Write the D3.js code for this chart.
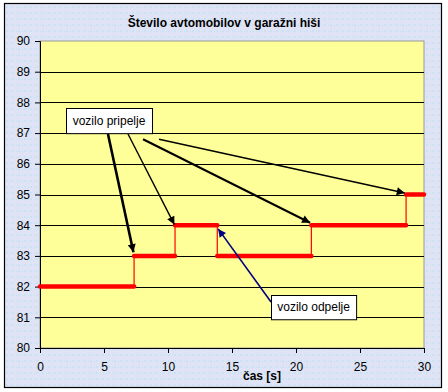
<!DOCTYPE html>
<html>
<head>
<meta charset="utf-8">
<script src="https://cdn.jsdelivr.net/npm/d3@7"></script>
<style>
  body { margin: 0; background: #fff; }
  text { font-family: Arial, "Liberation Sans", sans-serif; }
</style>
</head>
<body>
<div id="chart"></div>
<script>
// step data: time (s) where each level starts, and the number of cars
var stepStart = [0, 7.35, 10.55, 13.85, 21.2, 28.6];
var stepEnd = [7.35, 10.55, 13.85, 21.2, 28.6, 30];
var carCount = [82, 83, 84, 83, 84, 85];

var xTicks = [0, 5, 10, 15, 20, 25, 30];
var yTicks = [80, 81, 82, 83, 84, 85, 86, 87, 88, 89, 90];

// annotation boxes (data coords of top-left / bottom-right) and arrows
var noteText = ["vozilo pripelje", "vozilo odpelje"];
var noteBox = [[2.03, 87.82, 8.75, 87.0], [18.05, 81.73, 24.7, 80.94]];
var arrowFrom = [[5.31, 86.97], [6.875, 86.97], [8.05, 86.8], [9.3, 86.8], [18.05, 81.5]];
var arrowTo = [[7.3, 83.12], [10.5, 84.02], [21.1, 84.08], [28.5, 85.05], [13.92, 83.88]];
var arrowWidth = [2.6, 1.4, 2, 1.4, 1.6];
var arrowColor = ["#000", "#000", "#000", "#000", "#000080"];

var width = 448;
var height = 392;

var svg = d3.select("#chart")
  .append("svg")
  .attr("width", width)
  .attr("height", height);

// textured-ish background
var defs = svg.append("defs");
var pat = defs.append("pattern")
  .attr("id", "tex")
  .attr("width", 6)
  .attr("height", 6)
  .attr("patternUnits", "userSpaceOnUse");
pat.append("rect").attr("width", 6).attr("height", 6).attr("fill", "#dde4f6");
pat.append("rect").attr("x", 0).attr("y", 0).attr("width", 2).attr("height", 2).attr("fill", "#cfe0f3");
pat.append("rect").attr("x", 3).attr("y", 3).attr("width", 2).attr("height", 2).attr("fill", "#e8dff2");
pat.append("rect").attr("x", 4).attr("y", 1).attr("width", 1).attr("height", 1).attr("fill", "#c6e2f0");

svg.append("rect")
  .attr("x", 4.5)
  .attr("y", 3.5)
  .attr("width", 437)
  .attr("height", 384)
  .attr("fill", "url(#tex)")
  .attr("stroke", "#000")
  .attr("stroke-width", 1.2);

var xScale = d3.scaleLinear().domain([0, 30]).range([40, 424]);
var yScale = d3.scaleLinear().domain([80, 90]).range([348, 41]);

// plot area
svg.append("rect")
  .attr("x", xScale(0))
  .attr("y", yScale(90))
  .attr("width", xScale(30) - xScale(0))
  .attr("height", yScale(80) - yScale(90))
  .attr("fill", "#ffff99")
  .attr("stroke", "#999")
  .attr("stroke-width", 1);

// gridlines
svg.append("g")
  .selectAll("line")
  .data(yTicks.slice(1, -1))
  .enter()
  .append("line")
  .attr("x1", xScale(0))
  .attr("x2", xScale(30))
  .attr("y1", function(d) { return Math.round(yScale(d)) + 0.5; })
  .attr("y2", function(d) { return Math.round(yScale(d)) + 0.5; })
  .attr("stroke", "#000")
  .attr("stroke-width", 1);

// axes
var xAxis = d3.axisBottom(xScale).tickValues(xTicks).tickSize(5).tickPadding(9);
var yAxis = d3.axisLeft(yScale).tickValues(yTicks).tickSize(5).tickPadding(5);

var gx = svg.append("g")
  .attr("transform", "translate(0," + yScale(80) + ")")
  .call(xAxis);
var gy = svg.append("g")
  .attr("transform", "translate(" + xScale(0) + ",0)")
  .call(yAxis);

[gx, gy].forEach(function(g) {
  g.selectAll("path, line").attr("stroke", "#000");
  g.selectAll("text")
    .attr("font-size", 12)
    .attr("font-family", "Arial, 'Liberation Sans', sans-serif")
    .attr("fill", "#000");
});

// vertical connectors
svg.append("g")
  .selectAll("line")
  .data(carCount.slice(1))
  .enter()
  .append("line")
  .attr("x1", function(d, i) { return xScale(stepStart[i + 1]); })
  .attr("x2", function(d, i) { return xScale(stepStart[i + 1]); })
  .attr("y1", function(d, i) { return yScale(carCount[i]); })
  .attr("y2", function(d) { return yScale(d); })
  .attr("stroke", "#ff0000")
  .attr("stroke-width", 1.2);

// thick horizontal steps
svg.append("g")
  .selectAll("line")
  .data(carCount)
  .enter()
  .append("line")
  .attr("x1", function(d, i) { return xScale(stepStart[i]); })
  .attr("x2", function(d, i) { return xScale(stepEnd[i]); })
  .attr("y1", function(d) { return yScale(d); })
  .attr("y2", function(d) { return yScale(d); })
  .attr("stroke", "#ff0000")
  .attr("stroke-width", 4.5)
  .attr("stroke-linecap", "round");

// arrowheads
arrowColor.forEach(function(c, i) {
  defs.append("marker")
    .attr("id", "ah" + i)
    .attr("viewBox", "0 0 10 10")
    .attr("refX", 10)
    .attr("refY", 5)
    .attr("markerUnits", "userSpaceOnUse")
    .attr("markerWidth", 10)
    .attr("markerHeight", 8)
    .attr("orient", "auto")
    .append("path")
    .attr("d", "M0,0 L10,5 L0,10 Z")
    .attr("fill", c);
});

svg.append("g")
  .selectAll("line")
  .data(arrowFrom)
  .enter()
  .append("line")
  .attr("x1", function(d) { return xScale(d[0]); })
  .attr("y1", function(d) { return yScale(d[1]); })
  .attr("x2", function(d, i) { return xScale(arrowTo[i][0]); })
  .attr("y2", function(d, i) { return yScale(arrowTo[i][1]); })
  .attr("stroke", function(d, i) { return arrowColor[i]; })
  .attr("stroke-width", function(d, i) { return arrowWidth[i]; })
  .attr("marker-end", function(d, i) { return "url(#ah" + i + ")"; });

// annotation boxes
var notes = svg.append("g")
  .selectAll("g")
  .data(noteText)
  .enter()
  .append("g");

notes.append("rect")
  .attr("x", function(d, i) { return Math.round(xScale(noteBox[i][0])) + 0.5; })
  .attr("y", function(d, i) { return Math.round(yScale(noteBox[i][1])) + 0.5; })
  .attr("width", function(d, i) { return xScale(noteBox[i][2]) - xScale(noteBox[i][0]); })
  .attr("height", function(d, i) { return yScale(noteBox[i][3]) - yScale(noteBox[i][1]); })
  .attr("fill", "#fff")
  .attr("stroke", "#000")
  .attr("stroke-width", 1);

notes.append("text")
  .attr("x", function(d, i) { return (xScale(noteBox[i][0]) + xScale(noteBox[i][2])) / 2; })
  .attr("y", function(d, i) { return (yScale(noteBox[i][1]) + yScale(noteBox[i][3])) / 2 + 4; })
  .attr("text-anchor", "middle")
  .attr("font-size", 12)
  .text(function(d) { return d; });

// title and axis label
svg.append("text")
  .attr("x", 224)
  .attr("y", 27)
  .attr("text-anchor", "middle")
  .attr("font-size", 12)
  .attr("font-weight", "bold")
  .text("Število avtomobilov v garažni hiši");

svg.append("text")
  .attr("x", 262)
  .attr("y", 380)
  .attr("text-anchor", "middle")
  .attr("font-size", 12)
  .attr("font-weight", "bold")
  .text("čas [s]");
</script>
</body>
</html>
